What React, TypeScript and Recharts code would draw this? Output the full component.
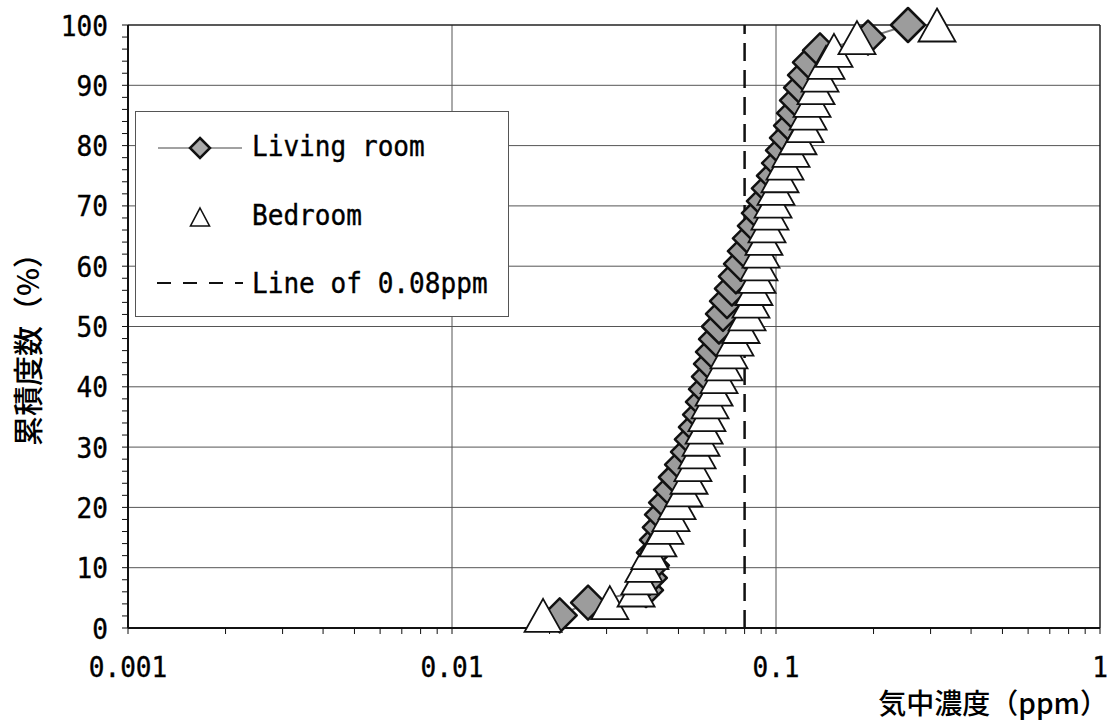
import { ScatterChart, Scatter, XAxis, YAxis, ReferenceLine, Legend, Label } from 'recharts';

// cumulative frequency (%) shared by both rooms
const cumulativePct = [
  2.1, 4.2, 6.3, 8.3, 10.4, 12.5, 14.6, 16.7, 18.8, 20.8, 22.9, 25.0,
  27.1, 29.2, 31.3, 33.3, 35.4, 37.5, 39.6, 41.7, 43.8, 45.8, 47.9, 50.0,
  52.1, 54.2, 56.3, 58.3, 60.4, 62.5, 64.6, 66.7, 68.8, 70.8, 72.9, 75.0,
  77.1, 79.2, 81.3, 83.3, 85.4, 87.5, 89.6, 91.7, 93.8, 95.8, 97.9, 100,
];

// airborne concentration (ppm), sorted
const livingRoomPpm = [
  0.0215, 0.0263, 0.0397, 0.0408, 0.0414, 0.042, 0.0429, 0.0438, 0.0445, 0.0458, 0.0474, 0.0491,
  0.0513, 0.0535, 0.055, 0.0566, 0.0583, 0.0595, 0.0608, 0.0621, 0.063, 0.0639, 0.0653, 0.0667,
  0.0686, 0.0706, 0.0731, 0.0752, 0.078, 0.0802, 0.0831, 0.0861, 0.0886, 0.0918, 0.0951, 0.0986,
  0.1022, 0.1051, 0.1081, 0.1113, 0.1137, 0.1161, 0.1195, 0.1229, 0.1273, 0.1367, 0.1923, 0.2555,
];

const bedroomPpm = [
  0.0191, 0.0307, 0.037, 0.038, 0.0391, 0.0408, 0.0432, 0.0454, 0.0474, 0.0495, 0.052, 0.0539,
  0.0554, 0.0571, 0.0587, 0.06, 0.0612, 0.0626, 0.0644, 0.0667, 0.0691, 0.0716, 0.0747, 0.078,
  0.0814, 0.0837, 0.0855, 0.0874, 0.0886, 0.0899, 0.0918, 0.0938, 0.0958, 0.0979, 0.1, 0.1029,
  0.1066, 0.1113, 0.1169, 0.1229, 0.1256, 0.1292, 0.1329, 0.1367, 0.1427, 0.151, 0.1778, 0.314,
];

const guideLinePpm = 0.08;

const xTicks = [
  0.001, 0.002, 0.003, 0.004, 0.005, 0.006, 0.007, 0.008, 0.009,
  0.01, 0.02, 0.03, 0.04, 0.05, 0.06, 0.07, 0.08, 0.09,
  0.1, 0.2, 0.3, 0.4, 0.5, 0.6, 0.7, 0.8, 0.9, 1,
];
const xLabelTicks = [0.001, 0.01, 0.1, 1];
const xGridLines = [0.01, 0.1];

const yTicks = [
  0, 2, 4, 6, 8, 10, 12, 14, 16, 18, 20, 22, 24, 26, 28, 30, 32, 34, 36, 38, 40, 42, 44, 46, 48, 50,
  52, 54, 56, 58, 60, 62, 64, 66, 68, 70, 72, 74, 76, 78, 80, 82, 84, 86, 88, 90, 92, 94, 96, 98, 100,
];
const yLabelTicks = [0, 10, 20, 30, 40, 50, 60, 70, 80, 90, 100];
const yGridLines = [10, 20, 30, 40, 50, 60, 70, 80, 90];

const livingRoom = cumulativePct.map((pct, i) => ({ ppm: livingRoomPpm[i], pct }));
const bedroom = cumulativePct.map((pct, i) => ({ ppm: bedroomPpm[i], pct }));

const MONO = '"DejaVu Sans Mono", "Liberation Mono", monospace';
const CJK = '"Noto Sans CJK JP", "Noto Sans", sans-serif';

function MonoText({ x, y, anchor = 'start', children }: any) {
  return (
    <text
      transform={`translate(${x},${y}) scale(0.9,1)`}
      textAnchor={anchor}
      fontFamily={MONO}
      fontSize={29}
      fill="#000"
      stroke="#000"
      strokeWidth={0.4}
    >
      {children}
    </text>
  );
}

function XTick({ x, y, payload }: any) {
  if (!xLabelTicks.includes(payload.value)) return <g />;
  return <MonoText x={x} y={y + 41} anchor="middle">{String(payload.value)}</MonoText>;
}

function YTick({ x, y, payload }: any) {
  if (!yLabelTicks.includes(payload.value)) return <g />;
  return <MonoText x={x - 12} y={y + 10.5} anchor="end">{String(payload.value)}</MonoText>;
}

function diamondPath(cx: number, cy: number, r: number) {
  return `M${cx},${cy - r}L${cx + r},${cy}L${cx},${cy + r}L${cx - r},${cy}Z`;
}

function trianglePath(cx: number, cy: number, w: number, h: number) {
  return `M${cx},${cy - h / 2}L${cx + w / 2},${cy + h / 2}L${cx - w / 2},${cy + h / 2}Z`;
}

function DiamondMark({ cx, cy }: any) {
  if (cx == null || cy == null) return <g />;
  return <path d={diamondPath(cx, cy, 17)} fill="#9c9c9c" stroke="#111" strokeWidth={2.5} strokeLinejoin="round" />;
}

function TriangleMark({ cx, cy }: any) {
  if (cx == null || cy == null) return <g />;
  return <path d={trianglePath(cx, cy, 37, 33)} fill="#fff" stroke="#111" strokeWidth={1.8} />;
}

function LegendBox() {
  return (
    <svg width={374} height={206} style={{ display: 'block' }}>
      <rect x={0.5} y={0.5} width={373} height={205} fill="#fff" stroke="#555" strokeWidth={1} />
      <line x1={23} y1={37} x2={107} y2={37} stroke="#444" strokeWidth={1} />
      <path d={diamondPath(65, 37, 10)} fill="#aaa" stroke="#111" strokeWidth={2.5} />
      <MonoText x={117} y={45}>Living room</MonoText>
      <path d={trianglePath(65, 106, 19, 18)} fill="#fff" stroke="#111" strokeWidth={1.6} />
      <MonoText x={117} y={114}>Bedroom</MonoText>
      <line x1={22} y1={172} x2={108} y2={172} stroke="#111" strokeWidth={2} strokeDasharray="14 12" />
      <MonoText x={117} y={182}>Line of 0.08ppm</MonoText>
    </svg>
  );
}

export default function App() {
  return (
    <div style={{ position: 'absolute', left: 0, top: 0, background: '#fff' }}>
      <ScatterChart width={1109} height={724} margin={{ top: 25, right: 9, bottom: 66, left: 68 }}>
        <XAxis
          type="number"
          dataKey="ppm"
          scale="log"
          domain={[0.001, 1]}
          ticks={xTicks}
          interval={0}
          allowDataOverflow
          height={30}
          tickSize={6}
          tickLine={{ stroke: '#111' }}
          axisLine={{ stroke: '#111', strokeWidth: 2 }}
          tick={<XTick />}
        >
          <Label
            content={() => (
              <text x={1108} y={714} textAnchor="end" fontFamily={CJK} fontSize={28} fontWeight={500} fill="#000">
                気中濃度（ppm）
              </text>
            )}
          />
        </XAxis>
        <YAxis
          type="number"
          dataKey="pct"
          domain={[0, 100]}
          ticks={yTicks}
          interval={0}
          width={60}
          tickSize={6}
          tickLine={{ stroke: '#111' }}
          axisLine={{ stroke: '#111', strokeWidth: 2 }}
          tick={<YTick />}
        >
          <Label
            content={() => (
              <text
                transform="translate(39,342) rotate(-90)"
                textAnchor="middle"
                fontFamily={CJK}
                fontSize={30}
                fontWeight={500}
                fill="#000"
              >
                累積度数（%）
              </text>
            )}
          />
        </YAxis>

        {yGridLines.map((v) => (
          <ReferenceLine key={`gy${v}`} y={v} stroke="#555" strokeWidth={1} />
        ))}
        {xGridLines.map((v) => (
          <ReferenceLine key={`gx${v}`} x={v} stroke="#555" strokeWidth={1} />
        ))}
        <ReferenceLine y={100} stroke="#222" strokeWidth={1.5} />
        <ReferenceLine x={1} stroke="#222" strokeWidth={1.5} />
        <ReferenceLine x={guideLinePpm} stroke="#111" strokeWidth={2.5} strokeDasharray="18 9" />

        <Scatter
          name="Living room"
          data={livingRoom}
          line={{ stroke: '#7a7a7a', strokeWidth: 2 }}
          lineType="joint"
          shape={<DiamondMark />}
          isAnimationActive={false}
        />
        <Scatter name="Bedroom" data={bedroom} shape={<TriangleMark />} isAnimationActive={false} />

        <Legend
          layout="vertical"
          align="center"
          verticalAlign="middle"
          wrapperStyle={{ left: 135, top: 111, width: 374, height: 206 }}
          content={() => <LegendBox />}
        />
      </ScatterChart>
    </div>
  );
}
